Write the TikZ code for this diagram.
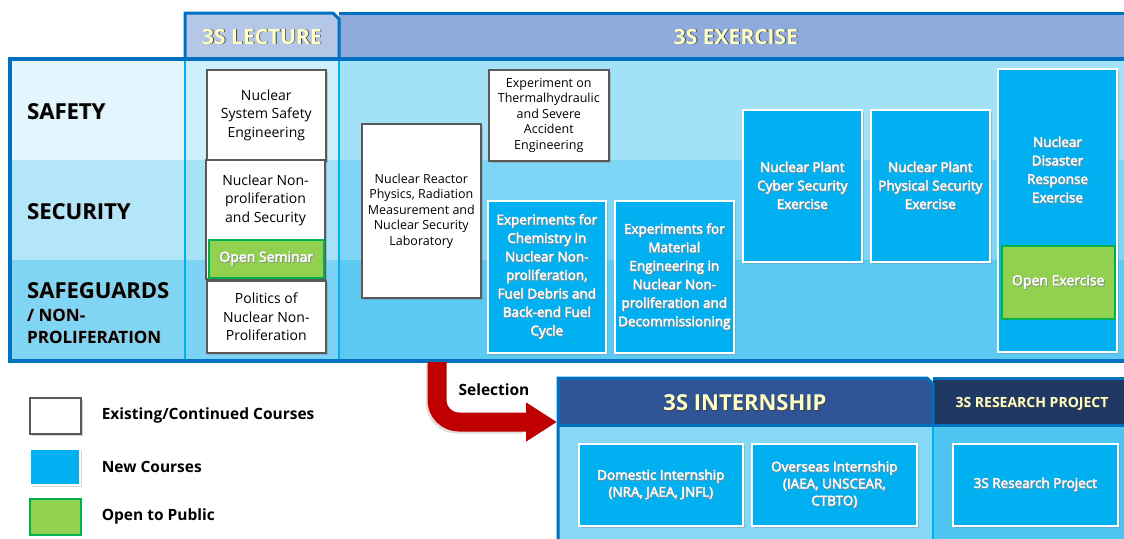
\documentclass[tikz,border=0pt]{standalone}
\usepackage{fontspec}
\setmainfont{Open Sans}
\newfontfamily\semib{Open Sans}[FakeBold=2.5]
\usetikzlibrary{arrows.meta, shadows, positioning, calc}

\definecolor{frameblue}{HTML}{0070C0}
\definecolor{cyanline}{HTML}{00B0F0}
\definecolor{lecthead}{HTML}{B4C7E7}
\definecolor{exhead}{HTML}{8FAADC}
\definecolor{internhead}{HTML}{2F5597}
\definecolor{researchhead}{HTML}{203864}
\definecolor{headyellow}{HTML}{FFFFC8}
\definecolor{labA}{HTML}{E3F5FD}
\definecolor{labB}{HTML}{B3E6F9}
\definecolor{labC}{HTML}{80D5F5}
\definecolor{lecA}{HTML}{CDEFFB}
\definecolor{lecB}{HTML}{A6E1F7}
\definecolor{lecC}{HTML}{7CD3F4}
\definecolor{exA}{HTML}{A3E1F8}
\definecolor{exB}{HTML}{7FD5F5}
\definecolor{exC}{HTML}{5BC9F2}
\definecolor{newblue}{HTML}{00B0F0}
\definecolor{openfill}{HTML}{92D050}
\definecolor{opengreen}{HTML}{00B050}
\definecolor{boxgray}{HTML}{595959}
\definecolor{arrowred}{HTML}{C00000}
\definecolor{internbody}{HTML}{87D8F6}
\definecolor{researchbody}{HTML}{4EC5F1}

% text with a small offset shadow
\newcommand{\shtxt}[2][black!75]{\rlap{\hspace{0.9pt}\raisebox{-0.9pt}{\textcolor{#1}{#2}}}#2}
\newcommand{\wl}[1]{\shtxt[black!45]{#1}}

\tikzset{
    boxshadow/.style={drop shadow={shadow xshift=2pt, shadow yshift=-2pt, opacity=0.35}},
    oldfill/.style={draw=boxgray, line width=1.6pt, fill=white, boxshadow},
    newfill/.style={draw=white, line width=1.6pt, fill=newblue, boxshadow},
    oldcourse/.style={oldfill, text=black, align=center, inner sep=0pt, anchor=north west},
    newcourse/.style={newfill, text=white, align=center, inner sep=0pt, anchor=north west},
    opencourse/.style={draw=opengreen, line width=1.6pt, fill=openfill, text=white, align=center, inner sep=0pt, anchor=north west, font=\semib\fontsize{14}{17}\selectfont},
    boxsize/.style 2 args={minimum width=#1, minimum height=#2},
    rowlabel/.style={anchor=base west, inner sep=0pt, font=\bfseries\fontsize{22}{26}\selectfont},
    headtext/.style={text=headyellow, inner sep=0pt, font=\bfseries\fontsize{21}{25}\selectfont},
    legendtext/.style={inner sep=0pt, anchor=west, font=\bfseries\fontsize{15.5}{19}\selectfont},
    smalltext/.style={font=\fontsize{12.5}{15.5}\selectfont},
    midtext/.style={font=\semib\fontsize{13.5}{18.5}\selectfont},
}

\begin{document}
\begin{tikzpicture}[x=1pt, y=-1pt]
    \useasboundingbox (0,0) rectangle (1124,538);
    \clip (0,0) rectangle (1124,538);

    % header tabs
    \fill[lecthead] (185,13) -- (333,13) -- (339,19) -- (339,59) -- (185,59) -- cycle;
    \fill[exhead] (339,13) rectangle (1130,59);
    \draw[frameblue, line width=3pt] (185,59) -- (185,13) -- (333,13) -- (339,19) -- (339,59);
    \draw[frameblue, line width=3pt] (339,13) -- (1130,13);

    % row bands
    \foreach \ya/\yb/\ca/\cb/\cc in {59/160/labA/lecA/exA, 160/260/labB/lecB/exB, 260/361/labC/lecC/exC}{
        \fill[\ca] (10,\ya) rectangle (185,\yb);
        \fill[\cb] (185,\ya) rectangle (339,\yb);
        \fill[\cc] (339,\ya) rectangle (1130,\yb);
    }
    \draw[cyanline, line width=2.5pt] (185,59) -- (185,361);
    \draw[cyanline, line width=2.5pt] (339,59) -- (339,361);
    \draw[frameblue, line width=3.5pt] (1130,59) -- (10,59) -- (10,361) -- (1130,361);

    \node[headtext] (lecture) at (262,37) {\shtxt{3S LECTURE}};
    \node[headtext] (exercise) at (736,37) {\shtxt{3S EXERCISE}};

    % row labels
    \node[rowlabel] (safety) at (27,119) {\shtxt[black!30]{SAFETY}};
    \node[rowlabel] (security) at (27,219) {\shtxt[black!30]{SECURITY}};
    \node[rowlabel] (safeguards) at (27,298) {\shtxt[black!30]{SAFEGUARDS}};
    \node[rowlabel, font=\bfseries\fontsize{17}{20}\selectfont] (nonpro) at (27,321) {\shtxt[black!30]{/ NON-}};
    \node[rowlabel, font=\bfseries\fontsize{17}{20}\selectfont] (prolif) at (27,343) {\shtxt[black!30]{PROLIFERATION}};

    % lecture column
    \node[oldcourse, boxsize={119pt}{91pt}, font=\fontsize{14}{18.5}\selectfont] (sse) at (206,69) {Nuclear\\System Safety\\Engineering};
    \path[oldfill] (206,160) rectangle (325,279);
    \node[align=center, font=\fontsize{14}{18.5}\selectfont] (nps) at (265.5,200) {Nuclear Non-\\proliferation\\and Security};
    \node[opencourse, boxsize={115pt}{38pt}] (seminar) at (208,239) {\wl{Open Seminar}};
    \node[oldcourse, boxsize={119pt}{72pt}, font=\fontsize{14}{18.5}\selectfont] (politics) at (206,280) {Politics of\\Nuclear Non-\\Proliferation};

    % exercise column
    \node[oldcourse, boxsize={119pt}{174pt}, smalltext] (reactor) at (361,123) {Nuclear Reactor\\Physics, Radiation\\Measurement and\\Nuclear Security\\Laboratory};
    \node[oldcourse, boxsize={120pt}{91pt}, smalltext] (thermal) at (488,69) {Experiment on\\Thermalhydraulic\\and Severe\\Accident\\Engineering};
    \node[newcourse, boxsize={118pt}{152pt}, midtext] (chem) at (487,200) {\wl{Experiments for}\\\wl{Chemistry in}\\\wl{Nuclear Non-}\\\wl{proliferation,}\\\wl{Fuel Debris and}\\\wl{Back-end Fuel}\\\wl{Cycle}};
    \node[newcourse, boxsize={119pt}{152pt}, midtext] (material) at (614,200) {\wl{Experiments for}\\\wl{Material}\\\wl{Engineering in}\\\wl{Nuclear Non-}\\\wl{proliferation and}\\\wl{Decommissioning}};
    \node[newcourse, boxsize={119pt}{152pt}, midtext] (cyber) at (742,109) {\wl{Nuclear Plant}\\\wl{Cyber Security}\\\wl{Exercise}};
    \node[newcourse, boxsize={119pt}{152pt}, midtext] (physical) at (870,109) {\wl{Nuclear Plant}\\\wl{Physical Security}\\\wl{Exercise}};
    \path[newfill] (998,69) rectangle (1117,352);
    \node[align=center, text=white, midtext] (disaster) at (1057.5,170) {\wl{Nuclear}\\\wl{Disaster}\\\wl{Response}\\\wl{Exercise}};
    \node[opencourse, boxsize={113pt}{73pt}] (openex) at (1001,245) {\wl{Open Exercise}};

    % legend
    \node[oldcourse, boxsize={51pt}{36pt}] (legold) at (29,397) {};
    \node[newcourse, boxsize={50pt}{36pt}] (legnew) at (29,448) {};
    \node[opencourse, boxsize={51pt}{36pt}] (legopen) at (29,498) {};
    \node[legendtext, right=20pt of legold.east] (txtold) {Existing/Continued Courses};
    \node[legendtext, right=21pt of legnew.east] (txtnew) {New Courses};
    \node[legendtext, right=20pt of legopen.east] (txtopen) {Open to Public};

    % selection arrow
    \coordinate (selstart) at (437,362);
    \coordinate (selend) at (557,422);
    \draw[black!25, line width=19pt, rounded corners=22pt, opacity=0.5] ($(selstart)+(-2,2)$) |- ($(selend)+(-34,2)$);
    \draw[arrowred, line width=19pt, rounded corners=22pt, -{Triangle[length=31pt, width=37pt]}] (selstart) |- (selend);
    \node[legendtext, anchor=center] (selection) at (494,390) {Selection};

    % internship and research
    \fill[internhead] (558,378) -- (927,378) -- (933,384) -- (933,425) -- (558,425) -- cycle;
    \fill[researchhead] (933,378) rectangle (1130,425);
    \fill[internbody] (558,425) rectangle (933,545);
    \fill[researchbody] (933,425) rectangle (1130,545);
    \draw[cyanline, line width=2.5pt] (933,425) -- (933,545);
    \draw[frameblue, line width=3pt] (558,545) -- (558,378) -- (927,378) -- (933,384) -- (933,425);
    \draw[frameblue, line width=3pt] (933,378) -- (1130,378);
    \draw[frameblue, line width=3pt] (558,425) -- (1130,425);
    \node[headtext, font=\bfseries\fontsize{22}{26}\selectfont] (internship) at (745,403) {\shtxt{3S INTERNSHIP}};
    \node[headtext, font=\bfseries\fontsize{14}{17}\selectfont] (research) at (1032,404) {\shtxt{3S RESEARCH PROJECT}};

    \node[newcourse, boxsize={164pt}{82pt}, font=\semib\fontsize{13.5}{17}\selectfont] (domestic) at (578,443) {\wl{Domestic Internship}\\\wl{(NRA, JAEA, JNFL)}};
    \node[newcourse, boxsize={165pt}{82pt}, font=\semib\fontsize{13.5}{17}\selectfont] (overseas) at (751,443) {\wl{Overseas Internship}\\\wl{(IAEA, UNSCEAR,}\\\wl{CTBTO)}};
    \node[newcourse, boxsize={165pt}{82pt}, font=\semib\fontsize{13.5}{17}\selectfont] (project) at (952,443) {\wl{3S Research Project}};
\end{tikzpicture}
\end{document}
